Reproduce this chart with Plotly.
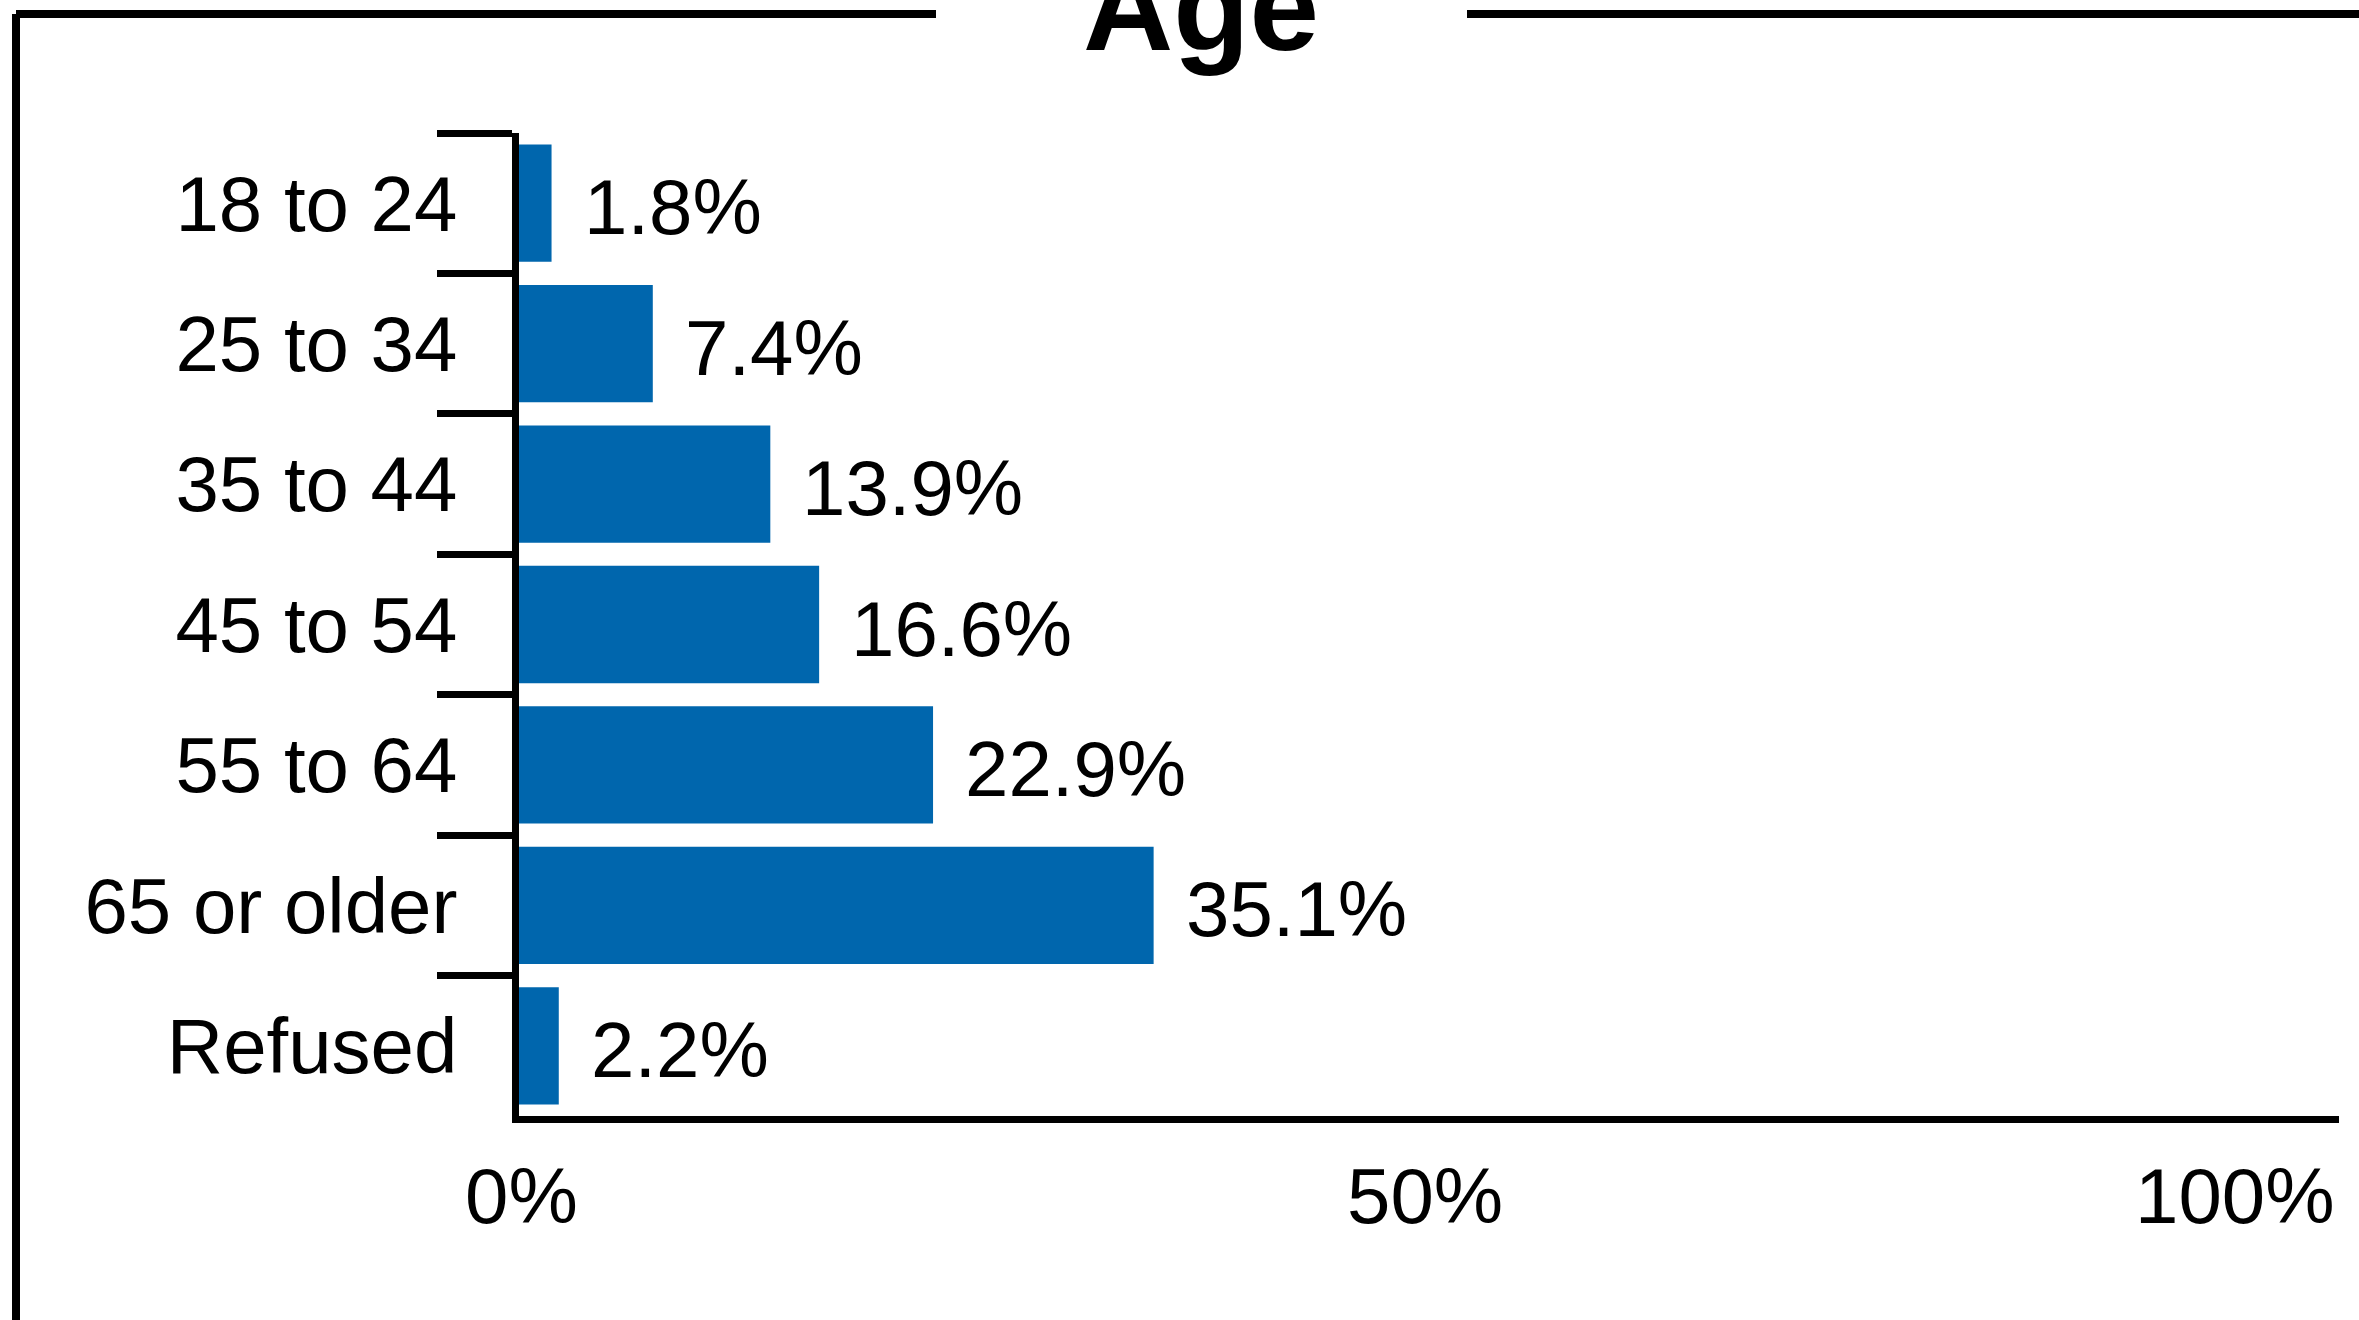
import plotly.graph_objects as go

# Survey respondents by age group (share of total, %)
categories = ["18 to 24", "25 to 34", "35 to 44", "45 to 54", "55 to 64", "65 or older", "Refused"]
shares = [1.8, 7.4, 13.9, 16.6, 22.9, 35.1, 2.2]
x_tick_values = [0, 50, 100]
x_tick_labels = ["0%", "50%", "100%"]
title_text = "Age"

W, H = 2359, 1320
M_L, M_R, M_T, M_B = 519, 20, 133, 204
PLOT_W = W - M_L - M_R
PLOT_H = H - M_T - M_B
X_MAX = 100.66

FONT = "Liberation Sans, Arial, sans-serif"
BAR_COLOR = "#0066AD"
LINE_W = 7


def px_x(p):
    return (p - M_L) / PLOT_W


def px_y(p):
    return (H - M_B - p) / PLOT_H


fig = go.Figure(
    go.Bar(
        x=shares,
        y=categories,
        orientation="h",
        marker=dict(color=BAR_COLOR, line=dict(width=0)),
        hoverinfo="skip",
    )
)

annotations = []
# value labels next to each bar
for cat, v in zip(categories, shares):
    annotations.append(dict(
        x=v, y=cat, xref="x", yref="y",
        text=f"{v}%", showarrow=False,
        xanchor="left", yanchor="middle", xshift=30, yshift=-4,
        font=dict(family=FONT, size=78, color="#000000"),
    ))
# percentage labels under the value axis
for i, (tv, tl) in enumerate(zip(x_tick_values, x_tick_labels)):
    last = i == len(x_tick_values) - 1
    annotations.append(dict(
        x=tv, y=0, xref="x", yref="paper",
        text=tl, showarrow=False,
        xanchor="right" if last else "center", yanchor="middle",
        xshift=10 if last else 2, yshift=-80,
        font=dict(family=FONT, size=78, color="#000000"),
    ))

frame_line = dict(color="#000000", width=8)
shapes = [
    # outer frame, broken around the title
    dict(type="line", xref="paper", yref="paper",
         x0=px_x(16), y0=px_y(14), x1=px_x(936), y1=px_y(14), line=frame_line),
    dict(type="line", xref="paper", yref="paper",
         x0=px_x(1467), y0=px_y(14), x1=px_x(W + 10), y1=px_y(14), line=frame_line),
    dict(type="line", xref="paper", yref="paper",
         x0=px_x(16), y0=px_y(14), x1=px_x(16), y1=px_y(H + 10), line=frame_line),
]

fig.update_layout(
    width=W, height=H,
    margin=dict(l=M_L, r=M_R, t=M_T, b=M_B, pad=0),
    paper_bgcolor="#ffffff",
    plot_bgcolor="#ffffff",
    showlegend=False,
    bargap=0.165,
    title=dict(
        text=f"<b>{title_text}</b>",
        x=1201 / W, xanchor="center",
        xref="container", yref="container",
        y=1 - 6 / H, yanchor="middle",
        font=dict(family=FONT, size=125, color="#000000"),
    ),
    xaxis=dict(
        range=[0, X_MAX],
        showgrid=False, zeroline=False,
        showline=True, linecolor="#000000", linewidth=LINE_W,
        ticks="", showticklabels=False,
        fixedrange=True,
    ),
    yaxis=dict(
        autorange="reversed",
        showgrid=False, zeroline=False,
        showline=True, linecolor="#000000", linewidth=LINE_W,
        ticks="outside", ticklen=75, tickwidth=LINE_W, tickcolor="#000000",
        tickson="boundaries",
        ticklabelstandoff=39,
        tickfont=dict(family=FONT, size=78, color="#000000"),
        fixedrange=True,
    ),
    annotations=annotations,
    shapes=shapes,
)

fig.write_html("out.html", config=dict(displayModeBar=False))
